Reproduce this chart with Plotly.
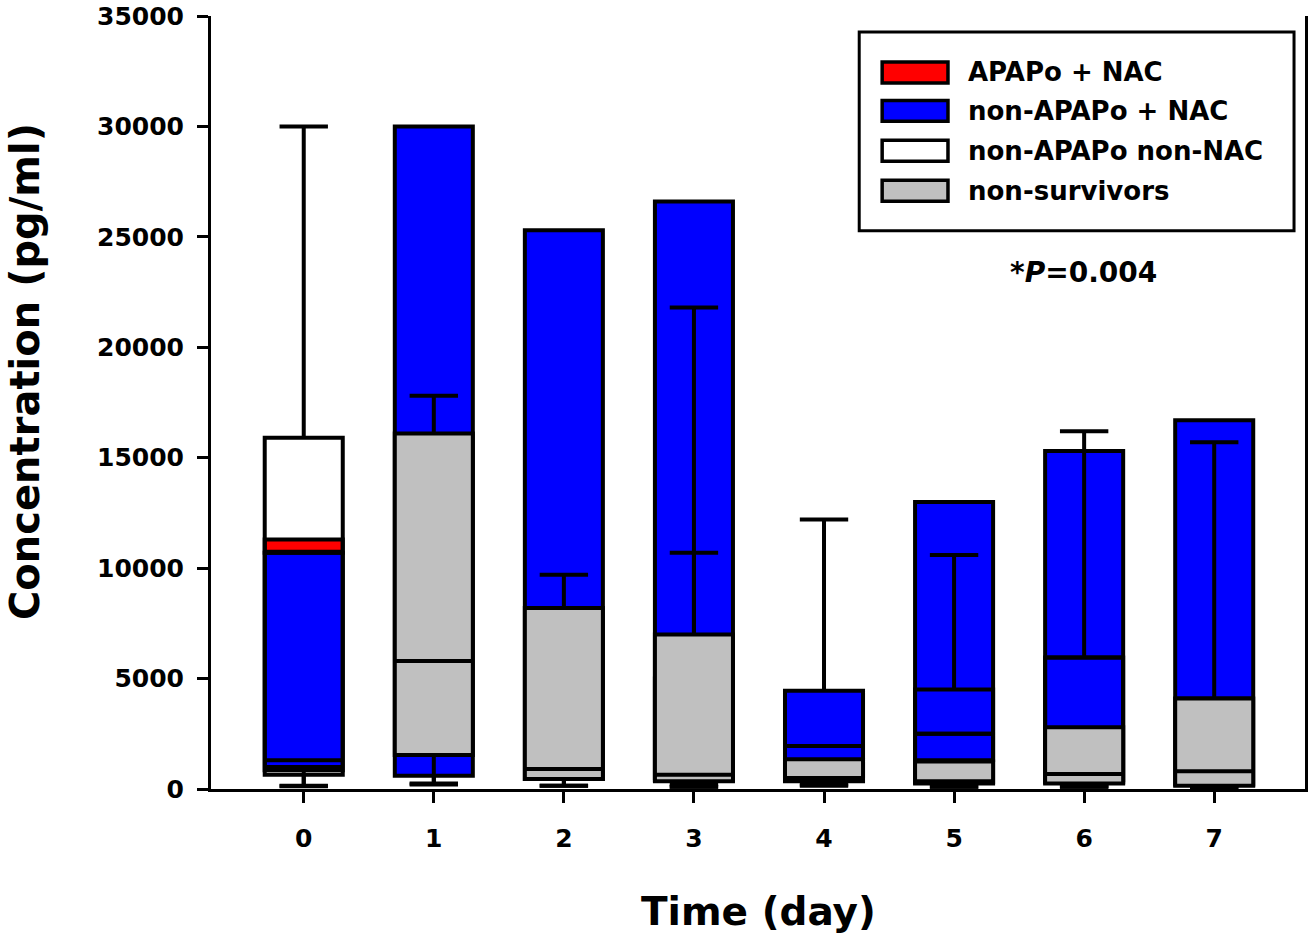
import plotly.graph_objects as go

# ---------------- data ----------------
days = [0, 1, 2, 3, 4, 5, 6, 7]
tick_labels = ["0", "1", "2", "3", "4", "5", "6", "7"]

# non-APAPo + NAC (blue)
blue_x = [0, 1, 2, 3, 4, 5, 6, 7]
blue_low = [150, 200, 150, 100, 200, 100, 100, 100]
blue_q1 = [850, 600, 450, 400, 400, 300, 300, 200]
blue_med = [1300, 8000, 5000, 4000, 1950, 2500, 5950, 4100]
blue_q3 = [10700, 30000, 25300, 26600, 4450, 13000, 15300, 16700]
blue_high = [10700, 30000, 25300, 26600, 12200, 13000, 15300, 16700]

# APAPo + NAC (red)
red_x = [0]
red_low = [10700]
red_q1 = [10700]
red_med = [10700]
red_q3 = [11300]
red_high = [11300]

# non-APAPo non-NAC (white / unfilled)
white_x = [0, 3, 5, 6]
white_low = [120, 200, 300, 150]
white_q1 = [650, 500, 1300, 400]
white_med = [1000, 2000, 2500, 1500]
white_q3 = [15900, 5000, 4500, 5950]
white_high = [30000, 21800, 10600, 16200]

# non-survivors (gray)
gray_x = [1, 2, 3, 4, 5, 6, 7]
gray_low = [250, 150, 100, 150, 100, 100, 50]
gray_q1 = [1540, 450, 350, 350, 250, 250, 150]
gray_med = [5800, 900, 650, 500, 350, 680, 800]
gray_q3 = [16100, 8200, 7000, 1350, 1250, 2800, 4100]
gray_high = [17800, 9700, 10700, 1350, 1250, 2800, 15700]

legend_names = ["APAPo + NAC", "non-APAPo + NAC", "non-APAPo non-NAC", "non-survivors"]
legend_colors = ["#FF0000", "#0000FF", "#FFFFFF", "#C0C0C0"]

FONT = "DejaVu Sans"
W, H = 1310, 937
L, R, T, B = 211, 2, 15, 148
PW, PH = W - L - R, H - T - B


def px(x):
    return (x - L) / PW


def py(y):
    return (H - B - y) / PH


fig = go.Figure()


def add_box(name, x, low, q1, med, q3, high, fill):
    fig.add_trace(go.Box(
        name=name, x=x, q1=q1, median=med, q3=q3,
        lowerfence=low, upperfence=high,
        fillcolor=fill, line=dict(color="black", width=4),
        width=0.6, whiskerwidth=0.62, boxpoints=False,
        showlegend=False, hoverinfo="skip",
    ))


add_box("non-APAPo + NAC", blue_x, blue_low, blue_q1, blue_med, blue_q3, blue_high, "#0000FF")
add_box("APAPo + NAC", red_x, red_low, red_q1, red_med, red_q3, red_high, "#FF0000")
add_box("non-APAPo non-NAC", white_x, white_low, white_q1, white_med, white_q3, white_high, "rgba(0,0,0,0)")
add_box("non-survivors", gray_x, gray_low, gray_q1, gray_med, gray_q3, gray_high, "#C0C0C0")

shapes = []
annotations = []

# legend frame
shapes.append(dict(type="rect", xref="paper", yref="paper",
                   x0=px(861), x1=px(1297), y0=py(230), y1=py(31),
                   line=dict(color="black", width=3), fillcolor="white", layer="above"))
row_centers = [71.5, 110, 150, 190]
for name, col, yc in zip(legend_names, legend_colors, row_centers):
    shapes.append(dict(type="rect", xref="paper", yref="paper",
                       x0=px(884), x1=px(950), y0=py(yc + 10.5), y1=py(yc - 10.5),
                       line=dict(color="black", width=3.5), fillcolor=col, layer="above"))
    annotations.append(dict(xref="paper", yref="paper", x=px(968), y=py(yc),
                            xanchor="left", yanchor="middle", showarrow=False,
                            text="<b>%s</b>" % name,
                            font=dict(family=FONT, size=26, color="black")))

annotations.append(dict(xref="paper", yref="paper", x=px(1086), y=py(272),
                        xanchor="center", yanchor="middle", showarrow=False,
                        text="<b>*<i>P</i>=0.004</b>",
                        font=dict(family=FONT, size=28, color="black")))

# axis titles
annotations.append(dict(xref="paper", yref="paper", x=px(24), y=py(371),
                        xanchor="center", yanchor="middle", showarrow=False,
                        textangle=-90, text="<b>Concentration (pg/ml)</b>",
                        font=dict(family=FONT, size=40, color="black")))
annotations.append(dict(xref="paper", yref="paper", x=px(760), y=py(912),
                        xanchor="center", yanchor="middle", showarrow=False,
                        text="<b>Time (day)</b>",
                        font=dict(family=FONT, size=39, color="black")))

fig.update_layout(
    width=W, height=H,
    margin=dict(l=L, r=R, t=T, b=B, pad=0),
    paper_bgcolor="white", plot_bgcolor="white",
    boxmode="overlay",
    showlegend=False,
    shapes=shapes,
    annotations=annotations,
    xaxis=dict(range=[-0.713, 7.698], tickmode="array", tickvals=days, ticktext=tick_labels,
               showline=True, linecolor="black", linewidth=3, ticks="outside",
               ticklen=11, tickwidth=3, tickcolor="black", showgrid=False, zeroline=False,
               tickfont=dict(family=FONT, size=25, color="black", weight="bold"),
               ticklabelstandoff=14),
    yaxis=dict(range=[0, 35000], tickmode="linear", tick0=0, dtick=5000, tickformat="d",
               showline=True, linecolor="black", linewidth=3, mirror=True, ticks="outside",
               ticklen=11, tickwidth=3, tickcolor="black", showgrid=False, zeroline=False,
               tickfont=dict(family=FONT, size=25, color="black", weight="bold"),
               ticklabelstandoff=8),
)

fig.write_html("out.html")
